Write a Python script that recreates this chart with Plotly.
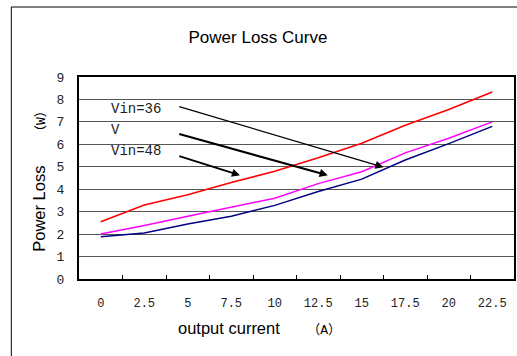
import plotly.graph_objects as go

# ---- data ----
currents = ["0", "2.5", "5", "7.5", "10", "12.5", "15", "17.5", "20", "22.5"]
loss_red = [2.55, 3.3, 3.75, 4.3, 4.8, 5.4, 6.05, 6.85, 7.55, 8.33]
loss_magenta = [2.0, 2.38, 2.8, 3.2, 3.6, 4.25, 4.78, 5.62, 6.27, 7.0]
loss_blue = [1.88, 2.05, 2.45, 2.8, 3.28, 3.9, 4.45, 5.3, 6.03, 6.8]
y_ticks = list(range(0, 10))

# labels and arrows (category index / value coordinates)
label_texts = ["Vin=36", "V", "Vin=48"]
label_x = [0.19, 0.19, 0.19]
label_y = [7.58, 6.65, 5.70]
arrow_tail_x = [1.77, 1.77, 1.77]
arrow_tail_y = [7.70, 6.48, 5.50]
arrow_head_x = [6.50, 5.22, 3.20]
arrow_head_y = [4.98, 4.62, 4.62]
arrow_widths = [1.3, 2.2, 1.8]
arrow_sizes = [1.25, 0.75, 0.9]

SERIF = "Liberation Mono"
SANS = "Liberation Sans, Arial"
CJK_SPAN = "font-family:'Liberation Mono','Noto Sans CJK SC';font-size:13px"

fig = go.Figure()
for vals, col, name in [(loss_red, "#FF0000", "red"),
                        (loss_magenta, "#FF00FF", "magenta"),
                        (loss_blue, "#000080", "blue")]:
    fig.add_trace(go.Scatter(x=currents, y=vals, mode="lines", name=name,
                             line=dict(color=col, width=1.5), showlegend=False))

annotations = []
for t, x, y in zip(label_texts, label_x, label_y):
    annotations.append(dict(text=t, x=x, y=y, xref="x", yref="y", showarrow=False,
                            xanchor="left", yanchor="middle",
                            font=dict(family=SERIF, size=14, color="#222")))
for tx, ty, hx, hy, w, s in zip(arrow_tail_x, arrow_tail_y, arrow_head_x, arrow_head_y,
                                arrow_widths, arrow_sizes):
    annotations.append(dict(x=hx, y=hy, ax=tx, ay=ty, xref="x", yref="y",
                            axref="x", ayref="y", text="", showarrow=True,
                            arrowhead=2, arrowsize=s, arrowwidth=w,
                            arrowcolor="black"))
# x axis title
annotations.append(dict(
    text="output current　　<span style=\"" + CJK_SPAN + "\">（A）</span>",
    x=0.414, y=-0.2475, xref="paper", yref="paper", showarrow=False,
    xanchor="center", yanchor="middle",
    font=dict(family=SANS, size=16.5, color="black")))

shapes = [
    dict(type="line", xref="paper", yref="paper", x0=-0.1556, x1=-0.1556,
         y0=-0.5, y1=1.3465, line=dict(color="black", width=1)),
    dict(type="line", xref="paper", yref="paper", x0=-0.1556, x1=1.2,
         y0=1.3465, y1=1.3465, line=dict(color="black", width=1)),
]

fig.update_layout(
    width=517, height=356,
    margin=dict(l=79, r=1, t=77, b=77),
    paper_bgcolor="white", plot_bgcolor="white",
    title=dict(text="Power Loss Curve", x=0.499, xref="container", xanchor="center",
               y=1 - 37 / 356, yref="container", yanchor="middle",
               font=dict(family=SANS, size=17, color="black")),
    xaxis=dict(type="category", categoryorder="array", categoryarray=currents,
               range=[-0.5, 9.5], showgrid=False, zeroline=False,
               showline=True, linecolor="black", linewidth=2, mirror=True,
               ticks="inside", ticklen=4, tickcolor="black", tickwidth=1,
               tickson="boundaries", ticklabelstandoff=12,
               tickfont=dict(family=SERIF, size=12, color="#222")),
    yaxis=dict(range=[0, 9], tickvals=y_ticks, showgrid=True, gridcolor="#555",
               gridwidth=1, zeroline=False,
               showline=True, linecolor="black", linewidth=2, mirror=True,
               ticks="", ticklabelstandoff=10,
               tickfont=dict(family=SERIF, size=13, color="#222"),
               title=dict(text="Power Loss　　<span style=\"" + CJK_SPAN + "\">（W）</span>",
                          standoff=7, font=dict(family=SANS, size=16.5, color="black"))),
    annotations=annotations,
    shapes=shapes,
)

fig.write_html("out.html")
